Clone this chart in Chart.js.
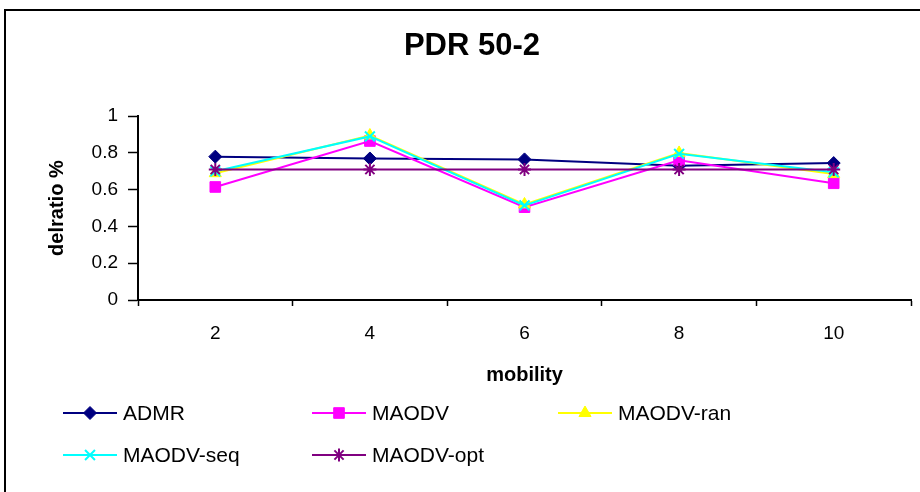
<!DOCTYPE html>
<html>
<head>
<meta charset="utf-8">
<script src="https://cdn.jsdelivr.net/npm/chart.js@4/dist/chart.umd.min.js"></script>
<style>
  html, body { margin: 0; padding: 0; background: #fff; }
  #wrap { width: 920px; height: 492px; }
</style>
</head>
<body>
<div id="wrap"><canvas id="c" width="920" height="492"></canvas></div>
<script>
// mobility levels on the x axis
const mobility = ['2', '4', '6', '8', '10'];

// delivery ratio per protocol
const admr      = [0.78, 0.77, 0.765, 0.73, 0.745];
const maodv     = [0.615, 0.865, 0.505, 0.76, 0.635];
const maodvRan  = [0.69, 0.895, 0.52, 0.80, 0.685];
const maodvSeq  = [0.70, 0.89, 0.515, 0.795, 0.695];
const maodvOpt  = [0.71, 0.71, 0.71, 0.71, 0.71];

const seriesNames = ['ADMR', 'MAODV', 'MAODV-ran', 'MAODV-seq', 'MAODV-opt'];
const seriesData  = [admr, maodv, maodvRan, maodvSeq, maodvOpt];
const seriesColors = ['#000080', '#FF00FF', '#FFFF00', '#00FFFF', '#800080'];
const seriesMarkers = ['rectRot', 'rect', 'triangle', 'crossRot', 'star'];
const markerRadius = [6.5, 7.5, 7, 7, 6.5];

const FONT = 'Arial, "Liberation Sans", Helvetica, sans-serif';

const datasets = seriesNames.map((name, i) => ({
  label: name,
  data: seriesData[i],
  borderColor: seriesColors[i],
  backgroundColor: seriesColors[i],
  pointBackgroundColor: seriesColors[i],
  pointBorderColor: seriesColors[i],
  pointStyle: seriesMarkers[i],
  pointRadius: markerRadius[i],
  pointBorderWidth: (seriesMarkers[i] === 'crossRot' || seriesMarkers[i] === 'star') ? 2 : 1,
  borderWidth: 2,
  tension: 0,
  fill: false,
  order: seriesNames.length - i
}));

// outer frame around the whole chart
const framePlugin = {
  id: 'frame',
  beforeDraw(chart) {
    const ctx = chart.ctx;
    ctx.save();
    ctx.fillStyle = '#fff';
    ctx.fillRect(0, 0, chart.width, chart.height);
    ctx.strokeStyle = '#000';
    ctx.lineWidth = 2;
    ctx.strokeRect(5, 10, chart.width + 50, chart.height + 50);
    ctx.restore();
  }
};

// legend laid out as a grid of line + marker samples below the axis
const gridLegend = {
  id: 'gridLegend',
  afterDraw(chart) {
    const ctx = chart.ctx;
    const cols = [63, 312, 558];
    const rows = [413, 455];
    ctx.save();
    chart.data.datasets.forEach((ds, i) => {
      const x = cols[i % 3];
      const y = rows[Math.floor(i / 3)];
      ctx.strokeStyle = ds.borderColor;
      ctx.lineWidth = 2;
      ctx.beginPath();
      ctx.moveTo(x, y);
      ctx.lineTo(x + 54, y);
      ctx.stroke();
      ctx.fillStyle = ds.pointBackgroundColor;
      ctx.strokeStyle = ds.pointBorderColor;
      ctx.lineWidth = ds.pointBorderWidth;
      Chart.helpers.drawPoint(ctx, {
        pointStyle: ds.pointStyle,
        radius: ds.pointRadius,
        rotation: 0,
        borderWidth: ds.pointBorderWidth
      }, x + 27, y);
      ctx.fillStyle = '#000';
      ctx.font = '21px ' + FONT;
      ctx.textBaseline = 'middle';
      ctx.textAlign = 'left';
      ctx.fillText(ds.label, x + 60, y + 1);
    });
    ctx.restore();
  }
};

new Chart(document.getElementById('c'), {
  type: 'line',
  data: { labels: mobility, datasets },
  options: {
    responsive: false,
    animation: false,
    devicePixelRatio: 1,
    layout: { padding: { left: 31, right: 7, top: 0, bottom: 100 } },
    plugins: {
      legend: { display: false },
      tooltip: { enabled: false },
      title: {
        display: true,
        text: 'PDR 50-2',
        color: '#000',
        font: { family: FONT, size: 31, weight: 'bold', lineHeight: 1.2 },
        padding: { top: 28, bottom: 51 }
      }
    },
    scales: {
      x: {
        offset: true,
        grid: {
          offset: true,
          drawOnChartArea: false,
          drawTicks: true,
          tickLength: 6,
          color: '#000',
          tickWidth: 1.5
        },
        border: { display: true, color: '#000', width: 2 },
        ticks: {
          color: '#000',
          font: { family: FONT, size: 19 },
          padding: 16,
          maxRotation: 0
        },
        title: {
          display: true,
          text: 'mobility',
          color: '#000',
          font: { family: FONT, size: 20, weight: 'bold', lineHeight: 1.2 },
          padding: { top: 0, bottom: 5 }
        },
        afterFit(scale) { scale.height = 92; }
      },
      y: {
        min: 0,
        max: 1,
        grid: {
          drawOnChartArea: false,
          drawTicks: true,
          tickLength: 10,
          color: '#000',
          tickWidth: 1.5
        },
        border: { display: true, color: '#000', width: 2 },
        ticks: {
          stepSize: 0.2,
          color: '#000',
          font: { family: FONT, size: 19 },
          padding: 10,
          callback: (v) => String(Number(v.toFixed(1)))
        },
        title: {
          display: true,
          text: 'delratio %',
          color: '#000',
          font: { family: FONT, size: 20, weight: 'bold', lineHeight: 1.2 },
          padding: { top: 14, bottom: 0 }
        },
        afterFit(scale) { scale.width = 107; }
      }
    }
  },
  plugins: [framePlugin, gridLegend]
});
</script>
</body>
</html>
